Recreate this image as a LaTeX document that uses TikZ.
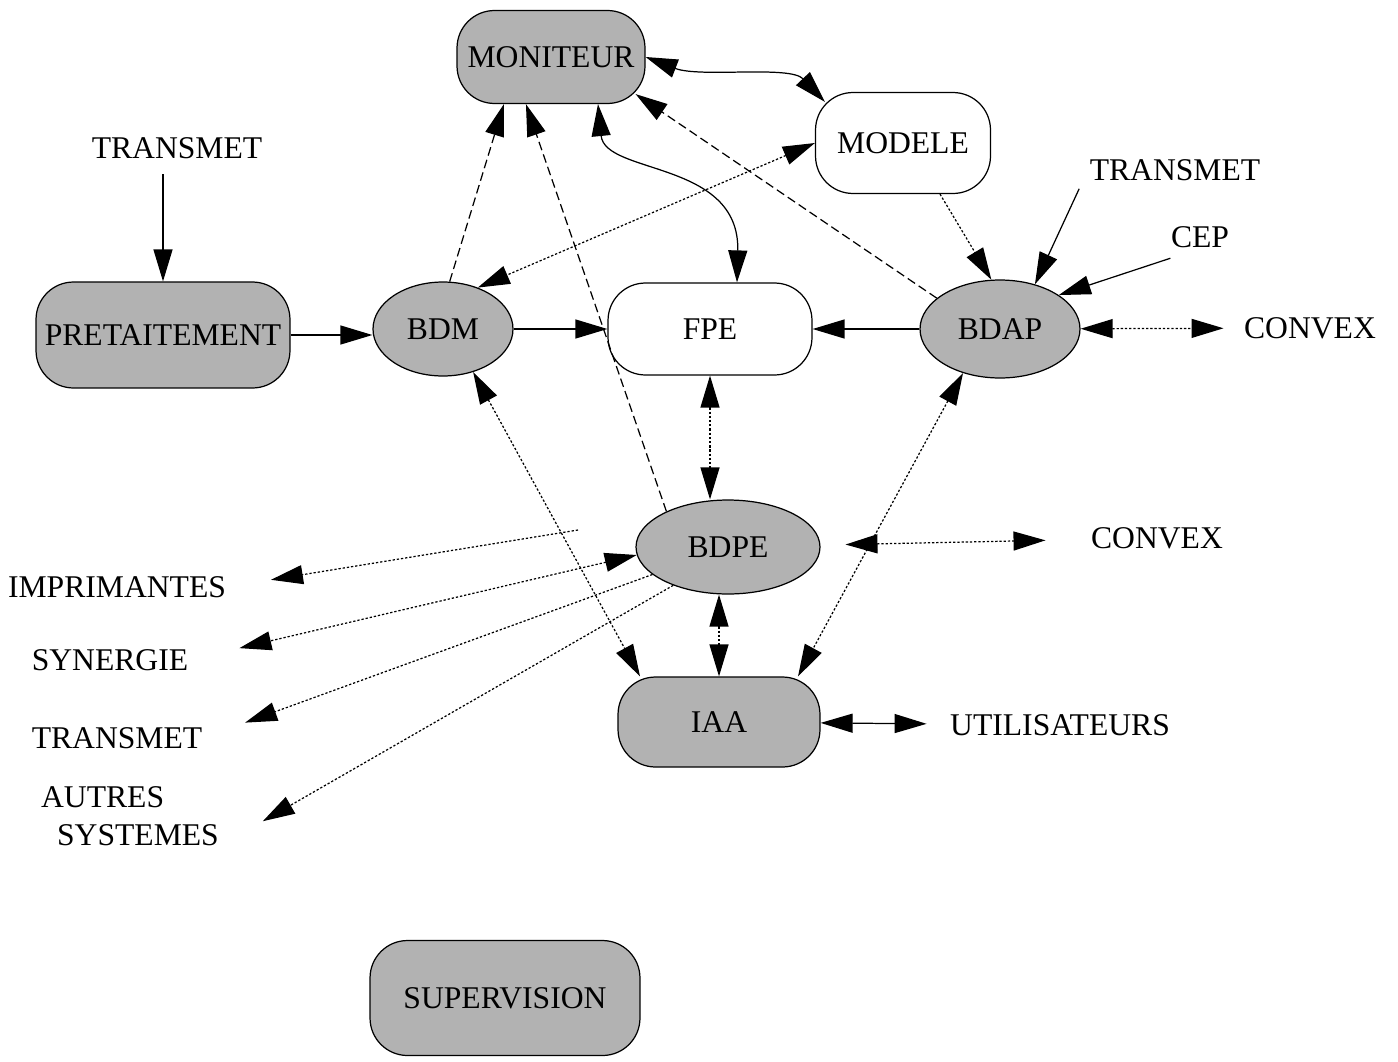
\documentclass[tikz,border=0pt]{standalone}
\usepackage{fontspec}
\setmainfont{Liberation Serif}
\usetikzlibrary{arrows.meta,shapes.geometric,positioning}

\begin{document}
\begin{tikzpicture}[x=0.02cm,y=-0.02cm,
		font=\fontsize{18}{21.5}\selectfont,
		>={Triangle[length=0.64cm,width=0.38cm]},
		line width=0.7pt,
		boite/.style={draw,rounded corners=0.75cm,inner sep=0pt},
		grise/.style={fill=black!30},
		base/.style={draw,ellipse,inner sep=0pt,fill=black!30},
		lbl/.style={inner sep=0pt},
		tiret/.style={dash pattern=on 5pt off 2.5pt},
		pointille/.style={dash pattern=on 1.3pt off 1.1pt}]
			\useasboundingbox (0,0) rectangle (1398,1061);
			\node[boite,grise,minimum width=3.76cm,minimum height=1.86cm] (MON) at (551,57) {MONITEUR};
			\node[boite,minimum width=3.5cm,minimum height=2.02cm] (MOD) at (903,143) {MODELE};
			\node[boite,grise,minimum width=5.08cm,minimum height=2.12cm] (PRE) at (163,335) {PRETAITEMENT};
			\node[base,minimum width=2.8cm,minimum height=1.88cm] (BDM) at (443,329) {BDM};
			\node[boite,minimum width=4.08cm,minimum height=1.84cm] (FPE) at (710,329) {FPE};
			\node[base,minimum width=3.2cm,minimum height=1.96cm] (BDAP) at (1000,329) {BDAP};
			\node[base,minimum width=3.68cm,minimum height=1.88cm] (BDPE) at (728,547) {BDPE};
			\node[boite,grise,minimum width=4.04cm,minimum height=1.8cm] (IAA) at (719,722) {IAA};
			\node[boite,grise,minimum width=5.4cm,minimum height=2.3cm] (SUP) at (505,998) {SUPERVISION};
			\node[lbl] (T1) at (177,148) {TRANSMET};
			\node[lbl] (T2) at (1175,170) {TRANSMET};
			\node[lbl] (CEP) at (1200,237) {CEP};
			\node[lbl] (CV1) at (1310,328) {CONVEX};
			\node[lbl] (CV2) at (1157,538) {CONVEX};
			\node[lbl] (IMP) at (117,587) {IMPRIMANTES};
			\node[lbl] (SYN) at (110,660) {SYNERGIE};
			\node[lbl] (T3) at (117,738) {TRANSMET};
			\node[lbl,align=left] (AUT) at (130,816) {AUTRES\\\hspace*{0.32cm}SYSTEMES};
			\node[lbl] (UTI) at (1060,725) {UTILISATEURS};
			\coordinate (P) at (578,530);
			\draw[->,shorten <=0.3cm] (T1.south -| PRE.north) -- (PRE.north);
			\draw[->] (PRE.east) -- (PRE.east -| BDM.west);
			\draw[->] (BDM) -- (FPE);
			\draw[->] (BDAP) -- (FPE);
			\draw[->,tiret] (BDM.82) -- (MON.225);
			\draw[->,tiret] (BDPE.150) -- (MON.242);
			\draw[->,tiret] (BDAP.154) -- ([shift={(-0.2cm,0.2cm)}]MON.south east);
			\draw[<->] ([xshift=0.94cm]MON.south) .. controls (605,175) and (740,160) .. ([xshift=0.54cm]FPE.north);
			\draw[<->] (MON.east) .. controls (700,78) and (790,65) .. ([shift={(0.2cm,-0.2cm)}]MOD.north west);
			\draw[<->,pointille] (MOD.west) -- (BDM.50);
			\draw[->,pointille] ([xshift=0.74cm]MOD.south) -- (BDAP.100);
			\draw[->] ([xshift=-0.2cm,yshift=-0.15cm]T2.south west) -- (BDAP.52);
			\draw[->] ([yshift=-0.2cm]CEP.south west) -- (BDAP.30);
			\draw[<->,pointille,shorten >=0.4cm] (BDAP) -- (CV1);
			\draw[<->,pointille] (FPE.south) -- (FPE.south |- BDPE.north);
			\draw[<->,pointille] (IAA.north |- BDPE.south) -- (IAA.north);
			\draw[<->,pointille] (BDM.305) -- (IAA.150);
			\draw[<->,pointille] (BDAP.230) -- (IAA.30);
			\draw[<->,pointille,shorten <=0.5cm,shorten >=0.9cm] (BDPE) -- (CV2);
			\draw[<->,shorten >=0.46cm] (IAA) -- (UTI);
			\draw[->,pointille,shorten >=0.9cm] (P) -- (IMP.east);
			\draw[<->,pointille,shorten >=1.04cm] (BDPE.185) -- (SYN.east);
			\draw[->,pointille,shorten >=0.9cm] (BDPE.200) -- (T3.east);
			\draw[->,pointille,shorten >=1.0cm] (BDPE.215) -- (AUT.south east);
\end{tikzpicture}
\end{document}
